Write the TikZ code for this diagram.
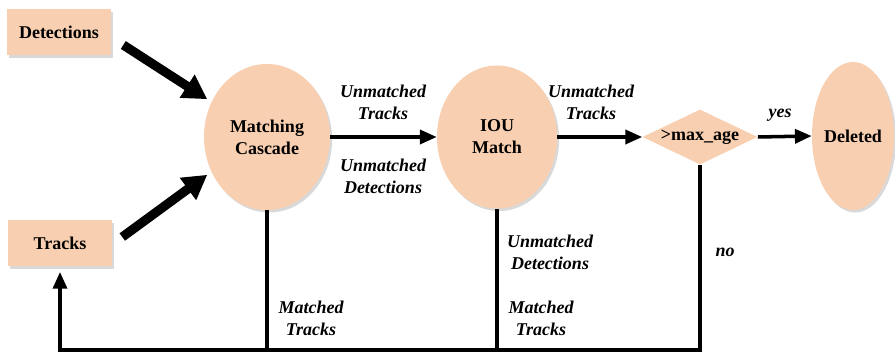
\documentclass[tikz,border=0pt]{standalone}
\usepackage{fontspec}
\setmainfont{Liberation Serif}
\usetikzlibrary{shapes.geometric,arrows.meta,shadows}
\definecolor{peach}{RGB}{248,207,176}

\begin{document}
\begin{tikzpicture}[x=0.025cm,y=-0.025cm,
        font=\fontsize{12.8}{15.6}\selectfont\bfseries,
        shade/.style={drop shadow={shadow xshift=1.5pt,shadow yshift=-1.8pt,opacity=0.3}},
        box/.style={fill=peach,shade,minimum width=2.6cm,minimum height=1.15cm},
        oval/.style={ellipse,fill=peach,shade,align=center,inner sep=0pt},
        decide/.style={diamond,fill=peach,aspect=2.1,inner sep=0pt,minimum width=2.875cm,minimum height=1.375cm},
        lbl/.style={align=center,font=\fontsize{12.8}{15.6}\selectfont\bfseries\itshape},
        fat/.style={line width=0.23cm,-{Triangle[length=0.6cm,width=0.65cm]}},
        flow/.style={line width=2.5pt,-{Triangle[length=0.42cm,width=0.35cm]}},
        wire/.style={line width=2.5pt}]
        \useasboundingbox (0,0) rectangle (895,353);

        \node[box](det)at(59,32){Detections};
        \node[box](trk)at(60,243){Tracks};
        \node[oval,minimum width=3.15cm,minimum height=3.65cm](mc)at(267,137){Matching\\Cascade};
        \node[oval,minimum width=3cm,minimum height=3.575cm](iou)at(497,137){IOU\\Match};
        \node[decide](age)at(700,137){>max\_age};
        \node[oval,minimum width=2.05cm,minimum height=3.7cm](del)at(853,136){Deleted};
        \coordinate(corner)at(60,350);

        \draw[fat]([shift={(12,13)}]det.east)--([shift={(-4,-3)}]mc.148);
        \draw[fat]([shift={(10,-6)}]trk.east)--([shift={(-4,3)}]mc.212);

        \draw[flow](mc.east)--(iou.west);
        \draw[flow](iou.east)--(age.west);
        \draw[flow](age.east)--(del.west);

        \draw[wire](mc.south)--(mc.south|-corner);
        \draw[wire](iou.south)--(iou.south|-corner);
        \draw[flow,shorten >=4pt](age.south)|-(corner)--(trk.south);

        \node[lbl](ut1)at(383,102){Unmatched\\Tracks};
        \node[lbl](ud1)at(383,176){Unmatched\\Detections};
        \node[lbl](ut2)at(591,102){Unmatched\\Tracks};
        \node[lbl](ud2)at(550,252){Unmatched\\Detections};
        \node[lbl](mt1)at(311,318){Matched\\Tracks};
        \node[lbl](mt2)at(541,318){Matched\\Tracks};
        \node[lbl](yes)at(780,115){yes};
        \node[lbl](no)at(725,252){no};
    \end{tikzpicture}
\end{document}
